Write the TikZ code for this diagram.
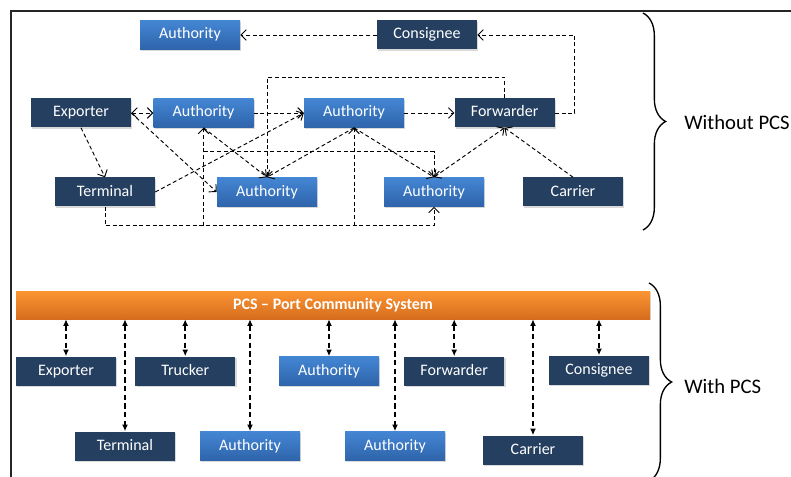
\documentclass[tikz,border=0pt]{standalone}
\usepackage{fontspec}
\setsansfont{Carlito}
\usepackage{tikz}
\usetikzlibrary{arrows.meta,positioning,calc,shadows,decorations.pathreplacing}
\definecolor{navy}{RGB}{36,63,96}
\definecolor{blueTop}{RGB}{68,134,212}
\definecolor{blueBot}{RGB}{46,100,170}
\definecolor{orangeTop}{RGB}{251,150,50}
\definecolor{orangeBot}{RGB}{213,108,30}

\begin{document}
\begin{tikzpicture}[
    x=0.75pt, y=-0.75pt,
    font=\sffamily\fontsize{12}{14}\selectfont,
    box/.style={rectangle, minimum width=75pt, minimum height=21.75pt, inner sep=0pt,
        text height=8.5pt, text depth=2.5pt, text=white,
        drop shadow={opacity=0.3, shadow xshift=1pt, shadow yshift=-1pt}},
    actor/.style={box, fill=navy},
    agency/.style={box, top color=blueTop, bottom color=blueBot},
    arrow/.style={->, >={Straight Barb[length=4pt,width=8pt]}, dash pattern=on 3pt off 2pt, line width=0.7pt},
    link/.style={<->, >={Latex[length=5pt,width=4.5pt]}, dash pattern=on 4pt off 2.5pt, line width=1.1pt},
    grp/.style={decorate, decoration={brace, amplitude=17pt}, line width=1pt},
    grplabel/.style={anchor=west, inner sep=0pt, font=\sffamily\fontsize{15.5}{19}\selectfont}
]
    \useasboundingbox (0,0) rectangle (791,477);
    \draw[line width=1.3pt, black!85] (11,477) -- (11,11) -- (791,11);

    % Without PCS
    \node[agency] (aut1a) at (190,35) {Authority};
    \node[actor] (con1) at (427,35) {Consignee};
    \node[actor] (exp1) at (81,113) {Exporter};
    \node[agency, right=16.5pt of exp1] (aut1b) {Authority};
    \node[agency, right=37.5pt of aut1b] (aut1c) {Authority};
    \node[actor, right=37.5pt of aut1c] (fwd1) {Forwarder};
    \node[actor] (ter1) at (105,192) {Terminal};
    \node[agency] (aut1d) at (267,192) {Authority};
    \node[agency] (aut1e) at (434,192) {Authority};
    \node[actor] (car1) at (573,192) {Carrier};

    \draw[arrow] (con1) -- (aut1a);
    \draw[arrow] (fwd1.east) -- ++(20,0) |- (con1.east);
    \draw[arrow, <->] (exp1) -- (aut1b);
    \draw[arrow] (aut1b) -- (aut1c);
    \draw[arrow] (aut1c) -- (fwd1);
    \draw[arrow] (exp1.south) -- (ter1.north);
    \draw[arrow] (exp1.east) -- (aut1d.west);
    \draw[arrow] (ter1.east) -- (aut1c.west);
    \draw[arrow] (aut1b.south) -- (aut1d.north);
    \draw[arrow] (aut1c.south) -- (aut1d.north);
    \draw[arrow] (aut1c.south) -- (aut1e.north);
    \draw[arrow, <->] (aut1e.north) -- (fwd1.south);
    \draw[arrow] (car1.north) -- (fwd1.south);
    \draw[arrow] (fwd1.north) -- ++(0,-21) -| (aut1d.north);

    \coordinate (low) at ($(ter1.south)+(0,19)$);
    \coordinate (mid) at ($(aut1b.south)+(0,24)$);
    \draw[arrow] (ter1.south) -- (low) -| (aut1e.south);
    \draw[arrow] (aut1b.south |- low) -- (aut1b.south);
    \draw[arrow] (aut1c.south |- low) -- (aut1c.south);
    \draw[arrow] (mid) -| (aut1e.north);

    \draw[grp] (643,13) -- (643,230);
    \node[grplabel] (nopcs) at (684,122) {Without PCS};

    % With PCS
    \node[top color=orangeTop, bottom color=orangeBot, minimum width=475.5pt, minimum height=21pt,
        text=white, font=\sffamily\bfseries\fontsize{12}{14}\selectfont,
        drop shadow={opacity=0.3, shadow xshift=1pt, shadow yshift=-1pt}] (pcs) at (333,305) {PCS – Port Community System};

    \node[actor] (exp2) at (66,371) {Exporter};
    \node[actor, right=14pt of exp2] (tru2) {Trucker};
    \node[agency] (aut2a) at (329,371) {Authority};
    \node[actor, right=18.5pt of aut2a] (fwd2) {Forwarder};
    \node[actor] (con2) at (599,370) {Consignee};
    \node[actor] (ter2) at (125,446) {Terminal};
    \node[agency] (aut2b) at (250,446) {Authority};
    \node[agency] (aut2c) at (395,446) {Authority};
    \node[actor] (car2) at (533,450) {Carrier};

    \foreach \n in {exp2,ter2,tru2,aut2b,aut2a,aut2c,fwd2,car2,con2}
        \draw[link] (pcs.south -| \n.north) -- (\n.north);

    \draw[grp] (649,283) -- (649,481);
    \node[grplabel] (withpcs) at (684,386) {With PCS};
\end{tikzpicture}
\end{document}
